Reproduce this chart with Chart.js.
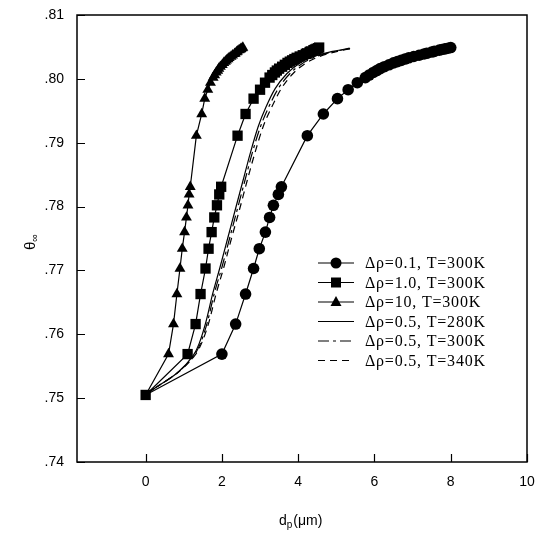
<!DOCTYPE html>
<html><head><meta charset="utf-8">
<script src="https://cdn.jsdelivr.net/npm/chart.js@4"></script>
<style>html,body{margin:0;padding:0;background:#fff;}</style>
</head><body>
<canvas id="c" width="538" height="533"></canvas>
<script>
// ---- data ----
const xTicks = [0, 2, 4, 6, 8, 10];
const yTicks = [0.74, 0.75, 0.76, 0.77, 0.78, 0.79, 0.80, 0.81];

const seriesLabels = ['Δρ=0.1, T=300K','Δρ=1.0, T=300K','Δρ=10, T=300K','Δρ=0.5, T=280K','Δρ=0.5, T=300K','Δρ=0.5, T=340K'];

const thetaMarked = [0.7505,0.7569,0.7616,0.7663,0.7703,0.7734,0.7760,0.7783,0.7802,0.7819,0.7831,0.7911,0.7945,0.7969,0.7983,0.7994,0.8002,
  0.8006,0.8010,0.8013,0.8016,0.8019,0.8022,0.8025,0.8027,0.8029,0.8031,0.8033,0.8035,0.8037,0.8039,0.8040,0.8042,0.8043,0.8045,0.8046,0.8047,0.8048,0.8049];

const dp_drho01 = [0,2.00,2.36,2.62,2.83,2.98,3.14,3.25,3.35,3.48,3.56,4.24,4.66,5.03,5.31,5.55,5.76,
  5.86,5.97,6.06,6.15,6.26,6.38,6.50,6.60,6.70,6.80,6.90,7.03,7.17,7.30,7.37,7.50,7.57,7.70,7.77,7.85,7.93,8.00];
const dp_drho10 = [0,1.10,1.31,1.44,1.57,1.65,1.73,1.80,1.87,1.93,1.98,2.41,2.62,2.83,3.00,3.13,3.25,
  3.32,3.39,3.44,3.50,3.58,3.65,3.72,3.78,3.84,3.90,3.96,4.04,4.12,4.20,4.23,4.30,4.33,4.40,4.44,4.48,4.52,4.55];
const dp_drho100 = [0,0.60,0.73,0.82,0.90,0.96,1.02,1.07,1.11,1.14,1.17,1.33,1.47,1.55,1.63,1.70,1.77,
  1.81,1.85,1.89,1.92,1.96,2.01,2.05,2.09,2.12,2.16,2.19,2.24,2.28,2.33,2.35,2.39,2.41,2.45,2.48,2.50,2.53,2.55];

const thetaLines = [0.7505,0.7567,0.7585,0.7617,0.7664,0.7705,0.7750,0.7795,0.7840,0.7885,0.7925,0.7955,0.7985,0.8008,0.8023,0.8035,0.8043,0.8048];
const dp_T280 = [0,1.25,1.40,1.57,1.76,1.95,2.15,2.35,2.55,2.75,2.95,3.15,3.40,3.70,4.00,4.40,4.90,5.35];
const dp_T300 = [0,1.27,1.43,1.61,1.80,2.00,2.20,2.40,2.60,2.80,3.01,3.22,3.48,3.78,4.08,4.48,4.97,5.40];
const dp_T340 = [0,1.29,1.46,1.65,1.85,2.05,2.25,2.46,2.66,2.87,3.08,3.30,3.56,3.86,4.16,4.56,5.03,5.45];

// ---- build ----
const pts = (xs, ys) => xs.map((x, i) => ({x: x, y: ys[i]}));
const firstHidden = (n, r) => Array.from({length: n}, (_, i) => i === 0 ? 0 : r);

const styles = [
  {marker:'circle', dash:[]},
  {marker:'rect', dash:[]},
  {marker:'triangle', dash:[]},
  {marker:null, dash:[]},
  {marker:null, dash:[11,4,3,4]},
  {marker:null, dash:[7,5]}
];

const base = {showLine:true, borderColor:'#000', backgroundColor:'#000', borderWidth:1.2, pointBorderWidth:0, fill:false};
const datasets = [
  Object.assign({}, base, {label:seriesLabels[3], data:pts(dp_T280, thetaLines), pointRadius:0, cubicInterpolationMode:'monotone'}),
  Object.assign({}, base, {label:seriesLabels[4], data:pts(dp_T300, thetaLines), pointRadius:0, cubicInterpolationMode:'monotone', borderDash:styles[4].dash}),
  Object.assign({}, base, {label:seriesLabels[5], data:pts(dp_T340, thetaLines), pointRadius:0, cubicInterpolationMode:'monotone', borderDash:styles[5].dash}),
  Object.assign({}, base, {label:seriesLabels[0], data:pts(dp_drho01, thetaMarked), pointStyle:'circle', pointRadius:firstHidden(dp_drho01.length, 5.8)}),
  Object.assign({}, base, {label:seriesLabels[2], data:pts(dp_drho100, thetaMarked), pointStyle:'triangle', pointRadius:firstHidden(dp_drho100.length, 6.3)}),
  Object.assign({}, base, {label:seriesLabels[1], data:pts(dp_drho10, thetaMarked), pointStyle:'rect', pointRadius:7.3})
];

function drawMarker(ctx, type, x, y) {
  ctx.beginPath();
  if (type === 'circle') { ctx.arc(x, y, 5.5, 0, Math.PI*2); }
  else if (type === 'rect') { ctx.rect(x-5, y-5, 10, 10); }
  else if (type === 'triangle') { ctx.moveTo(x, y-6); ctx.lineTo(x+5.5, y+4); ctx.lineTo(x-5.5, y+4); ctx.closePath(); }
  ctx.fill();
}

const decor = {
  id:'decor',
  afterDraw(chart) {
    const ctx = chart.ctx, a = chart.chartArea;
    const xs = chart.scales.x, ys = chart.scales.y;
    ctx.save();
    // frame
    ctx.strokeStyle = '#000'; ctx.lineWidth = 1.5; ctx.setLineDash([]);
    ctx.strokeRect(a.left, a.top, a.right - a.left, a.bottom - a.top);
    // inward ticks
    ctx.lineWidth = 1.2;
    ctx.beginPath();
    xTicks.forEach(v => { const px = Math.round(xs.getPixelForValue(v)) + 0.5; ctx.moveTo(px, a.bottom); ctx.lineTo(px, a.bottom - 8); });
    yTicks.forEach(v => { const py = Math.round(ys.getPixelForValue(v)) + 0.5; ctx.moveTo(a.left, py); ctx.lineTo(a.left + 8, py); });
    ctx.stroke();
    // axis titles
    ctx.fillStyle = '#000';
    ctx.font = '14px "Liberation Sans", Arial, sans-serif';
    ctx.textBaseline = 'alphabetic';
    ctx.textAlign = 'left';
    const tx = 279, tyb = 525;
    ctx.fillText('d', tx, tyb);
    const wd = ctx.measureText('d').width;
    ctx.font = '10px "Liberation Sans", Arial, sans-serif';
    ctx.fillText('p', tx + wd, tyb + 3);
    const wp = ctx.measureText('p').width;
    ctx.font = '14px "Liberation Sans", Arial, sans-serif';
    ctx.fillText('(μm)', tx + wd + wp + 1, tyb);
    // y title rotated
    ctx.save();
    ctx.translate(35, 250);
    ctx.rotate(-Math.PI/2);
    ctx.font = '15px "Liberation Sans", Arial, sans-serif';
    ctx.fillText('θ', 0, 0);
    const wt = ctx.measureText('θ').width;
    ctx.font = '11px "Liberation Sans", Arial, sans-serif';
    ctx.fillText('∞', wt, 3);
    ctx.restore();
    // legend
    const rowY = [263, 282.5, 302, 321.5, 341, 360.5];
    ctx.font = '16px "Liberation Serif", "Times New Roman", serif';
    try { ctx.letterSpacing = '0.8px'; } catch (e) {}
    ctx.textBaseline = 'middle';
    seriesLabels.forEach((lab, k) => {
      const y = rowY[k];
      ctx.strokeStyle = '#000'; ctx.lineWidth = 1.2;
      ctx.setLineDash(styles[k].dash);
      ctx.beginPath(); ctx.moveTo(318, y); ctx.lineTo(354, y); ctx.stroke();
      ctx.setLineDash([]);
      if (styles[k].marker) drawMarker(ctx, styles[k].marker, 336, y);
      ctx.fillText(lab, 365, y + 1);
    });
    ctx.restore();
  }
};

new Chart(document.getElementById('c').getContext('2d'), {
  type:'scatter',
  data:{datasets: datasets},
  options:{
    responsive:false, animation:false, devicePixelRatio:1,
    layout:{padding:{left:0, right:11, top:15, bottom:0}},
    plugins:{legend:{display:false}, tooltip:{enabled:false}},
    scales:{
      x:{type:'linear', min:-1.8, max:10,
         afterBuildTicks: s => { s.ticks = xTicks.map(v => ({value:v})); },
         afterFit: s => { s.height = 71; s.paddingLeft = 0; s.paddingRight = 0; },
         grid:{display:false, drawTicks:false}, border:{display:false},
         ticks:{color:'#000', padding:12, maxRotation:0, font:{family:'"Liberation Sans", Arial, sans-serif', size:14}}},
      y:{type:'linear', min:0.74, max:0.81,
         afterBuildTicks: s => { s.ticks = yTicks.map(v => ({value:v})); },
         afterFit: s => { s.width = 77; s.paddingTop = 0; s.paddingBottom = 0; },
         grid:{display:false, drawTicks:false}, border:{display:false},
         ticks:{color:'#000', padding:13, font:{family:'"Liberation Sans", Arial, sans-serif', size:14},
                callback: v => v.toFixed(2).replace(/^0/, '')}}
    }
  },
  plugins:[decor]
});
</script>
</body></html>
